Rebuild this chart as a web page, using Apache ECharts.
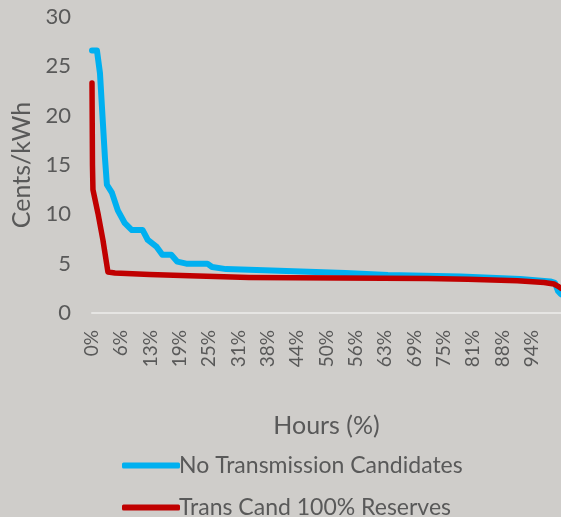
<!DOCTYPE html>
<html>
<head>
<meta charset="utf-8">
<script src="https://cdn.jsdelivr.net/npm/echarts@6/dist/echarts.min.js"></script>
<style>
html,body{margin:0;padding:0;background:#cfcdca;}
#chart{width:561px;height:517px;}
</style>
</head>
<body>
<div id="chart"></div>
<script>
// Hours (%) positions and Cents/kWh values
const blueHours = [0, 1.06, 1.7, 2.33, 2.75, 3.18, 4.24, 5.5, 7.0, 8.5, 10.8, 11.9, 13.8, 15.0, 16.9, 18.2, 20.1, 24.6, 25.6, 28.6, 38.3, 54.0, 63.1, 78.6, 91.3, 97.7, 98.7, 99.4, 100];
const blueCents = [26.6, 26.6, 24.3, 19.2, 15.8, 13.0, 12.2, 10.4, 9.1, 8.4, 8.4, 7.4, 6.7, 5.9, 5.9, 5.2, 5.0, 5.0, 4.66, 4.45, 4.3, 4.05, 3.85, 3.7, 3.45, 3.2, 3.05, 2.2, 1.9];
const redHours = [0, 0.1, 0.2, 1.27, 2.33, 3.4, 4.9, 12.3, 20.8, 33.5, 52.5, 71.6, 80.1, 90.7, 96.4, 98.5, 99.4, 100];
const redCents = [23.3, 15.0, 12.5, 10.1, 7.4, 4.15, 4.05, 3.9, 3.78, 3.61, 3.55, 3.5, 3.41, 3.27, 3.1, 2.94, 2.7, 2.5];
const seriesNames = ['No Transmission Candidates', 'Trans Cand 100% Reserves'];
const yTicks = [0, 5, 10, 15, 20, 25, 30];

const pairs = (xs, ys) => xs.map((x, i) => [x, ys[i]]);
const FONT = 'Lato';
const TXT = '#595959';
const legendBase = {
  orient: 'horizontal', left: 117,
  icon: 'roundRect', itemWidth: 58, itemHeight: 6,
  textStyle: { fontFamily: FONT, fontSize: 23, color: TXT, padding: [0, 0, 0, -6] }
};

const chart = echarts.init(document.getElementById('chart'));
chart.setOption({
  backgroundColor: '#cfcdca',
  animation: false,
  grid: { left: 92, top: 17, bottom: 204, right: -3, containLabel: false },
  xAxis: {
    type: 'value', min: 0, max: 100, interval: 6.25,
    name: 'Hours (%)', nameLocation: 'middle', nameGap: 100,
    nameTextStyle: { fontFamily: FONT, fontSize: 25, color: TXT },
    axisLine: { show: true, lineStyle: { color: '#e6e5e3', width: 2 } },
    axisTick: { show: false },
    splitLine: { show: false },
    axisLabel: {
      rotate: 90, margin: 17, fontFamily: FONT, fontSize: 19, color: TXT,
      showMaxLabel: false,
      formatter: v => (v >= 100 ? '' : Math.round(v) + '%')
    }
  },
  yAxis: {
    type: 'value', min: yTicks[0], max: yTicks[yTicks.length - 1], interval: 5,
    name: 'Cents/kWh', nameLocation: 'middle', nameGap: 58,
    nameTextStyle: { fontFamily: FONT, fontSize: 25, color: TXT },
    axisLine: { show: false }, axisTick: { show: false },
    splitLine: { show: false },
    axisLabel: { margin: 21, fontFamily: FONT, fontSize: 22, color: TXT }
  },
  legend: [
    Object.assign({}, legendBase, { top: 449, data: [seriesNames[0]] }),
    Object.assign({}, legendBase, { top: 491, data: [seriesNames[1]] })
  ],
  series: [
    {
      name: seriesNames[0], type: 'line', data: pairs(blueHours, blueCents),
      showSymbol: false, symbol: 'none',
      lineStyle: { color: '#00b0f0', width: 6, cap: 'round', join: 'round' },
      itemStyle: { color: '#00b0f0' }
    },
    {
      name: seriesNames[1], type: 'line', data: pairs(redHours, redCents),
      showSymbol: false, symbol: 'none',
      lineStyle: { color: '#c00000', width: 5.5, cap: 'round', join: 'round' },
      itemStyle: { color: '#c00000' }
    }
  ]
});
</script>
</body>
</html>
